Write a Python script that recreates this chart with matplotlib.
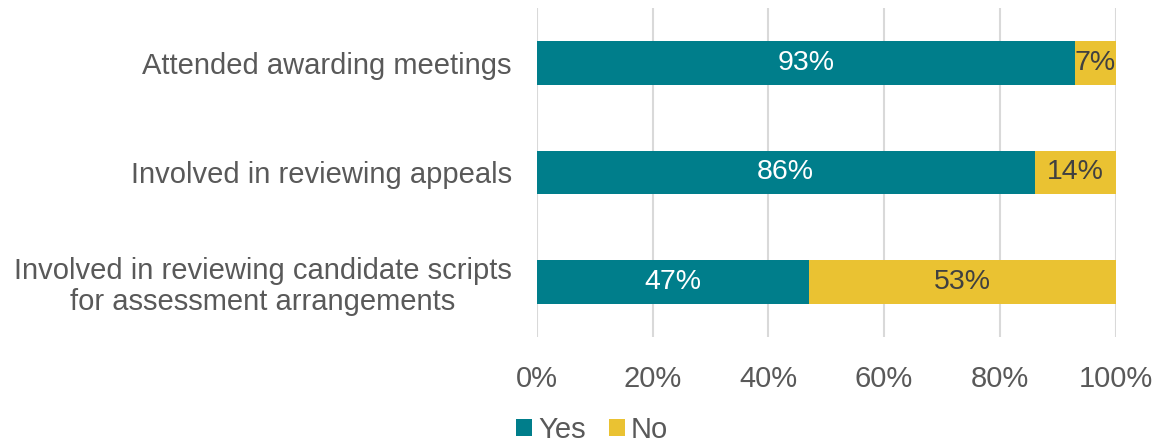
import matplotlib.pyplot as plt
import numpy as np

plt.rcParams['font.family'] = ['Liberation Sans', 'DejaVu Sans']

categories = ['Attended awarding meetings',
              'Involved in reviewing appeals',
              'Involved in reviewing candidate scripts\nfor assessment arrangements']
yes = [93, 86, 47]
no = [7, 14, 53]

teal = '#007E8B'
gold = '#EAC232'
grey = '#595959'

fig = plt.figure(figsize=(11.62, 4.48), dpi=100)
ax = fig.add_axes([0.462, 0.248, 0.498, 0.734])

y = np.arange(len(categories))
ax.barh(y, yes, height=0.4, color=teal, label='Yes')
ax.barh(y, no, left=yes, height=0.4, color=gold, label='No')

for i in range(len(categories)):
    ax.text(yes[i] / 2, y[i], f'{yes[i]}%', ha='center', va='center',
            color='white', fontsize=20.5)
    ax.text(yes[i] + no[i] / 2, y[i], f'{no[i]}%', ha='center', va='center',
            color='#404040', fontsize=20.5)

ax.set_xlim(0, 100)
ax.set_ylim(2.5, -0.5)
ax.set_yticks(y)
ax.set_yticklabels(categories, fontsize=21, color=grey, linespacing=1.15,
                   multialignment='center')
ax.set_xticks(range(0, 101, 20))
ax.set_xticklabels([f'{v}%' for v in range(0, 101, 20)], fontsize=21, color=grey)
ax.tick_params(length=0)
ax.tick_params(axis='y', pad=18)
ax.tick_params(axis='x', pad=20)
for s in ax.spines.values():
    s.set_visible(False)
ax.grid(axis='x', color='#D9D9D9', linewidth=1.5)
ax.set_axisbelow(True)

fig.legend(loc='center', bbox_to_anchor=(592 / 1162, 1 - 430 / 448), ncol=2,
           frameon=False, fontsize=21, handlelength=0.55, handleheight=0.55,
           handletextpad=0.2, columnspacing=0.8, labelcolor=grey)

fig.savefig('out.png', dpi=100)
